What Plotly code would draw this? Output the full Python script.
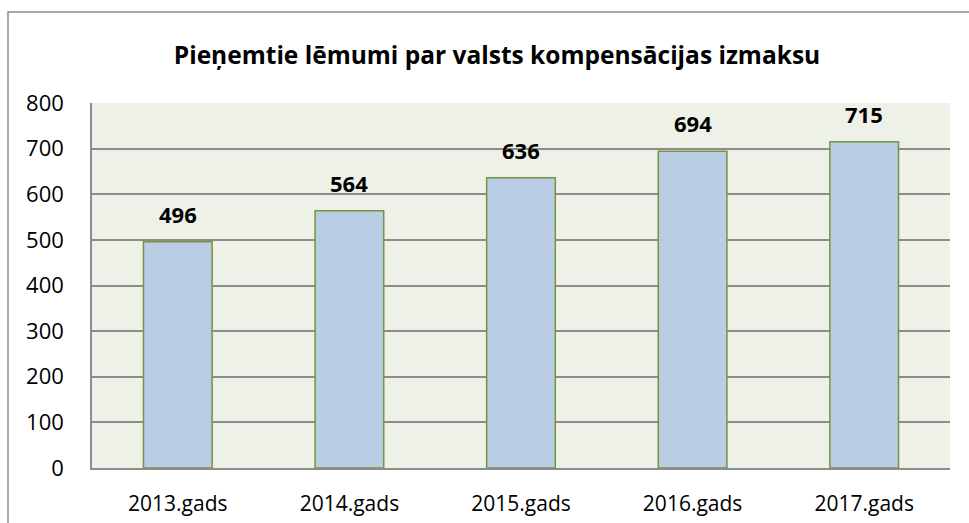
import plotly.graph_objects as go

categories = ["2013.gads", "2014.gads", "2015.gads", "2016.gads", "2017.gads"]
values = [496, 564, 636, 694, 715]
y_ticks = [0, 100, 200, 300, 400, 500, 600, 700, 800]
title_text = "Pieņemtie lēmumi par valsts kompensācijas izmaksu"

FONT = "Open Sans"

fig = go.Figure()
fig.add_trace(go.Bar(
    x=categories, y=values, width=0.4,
    marker=dict(color="#b9cde5", line=dict(color="#77933c", width=1.5)),
    hoverinfo="x+y",
))

for c, v in zip(categories, values):
    fig.add_annotation(x=c, y=v, text=f"<b>{v}</b>", showarrow=False,
                       yanchor="bottom", yshift=11,
                       font=dict(family=FONT, size=22, color="#000000"))

fig.add_shape(type="rect", xref="paper", yref="paper",
              x0=-0.0979, y0=-0.2, x1=1.05, y1=1.249,
              line=dict(color="#8c8c8c", width=1.5), fillcolor="rgba(0,0,0,0)",
              layer="below")

fig.update_layout(
    width=969, height=523,
    margin=dict(l=92, r=19, t=103, b=55, autoexpand=False),
    paper_bgcolor="white", plot_bgcolor="#eef1e8",
    title=dict(text=f"<b>{title_text}</b>", x=497/969, xref="container", xanchor="center",
               y=1 - 55/523, yref="container", yanchor="middle",
               font=dict(family=FONT, size=24.5, color="#000000")),
    showlegend=False,
    font=dict(family=FONT, size=16, color="#000000"),
)
fig.update_xaxes(showline=True, linecolor="#8c8c8c", linewidth=1.5, automargin=False,
                 ticks="", tickfont=dict(family=FONT, size=21), ticklabelstandoff=16)
fig.update_yaxes(range=[0, 800], tickvals=y_ticks, showgrid=True, automargin=False,
                 gridcolor="#8c8c8c", gridwidth=1.5, showline=True,
                 linecolor="#8c8c8c", linewidth=1.5, ticks="", zeroline=False,
                 tickfont=dict(family=FONT, size=22), ticklabelstandoff=22)

fig.write_html("out.html", config={"displayModeBar": False},
               post_script="document.body.style.margin='0';")
